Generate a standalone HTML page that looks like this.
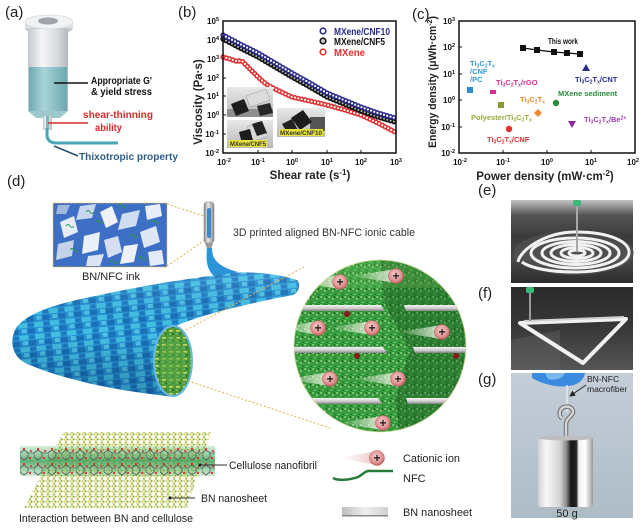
<!DOCTYPE html>
<html><head><meta charset="utf-8">
<style>
html,body{margin:0;padding:0;background:#fff;}
svg{display:block;font-family:"Liberation Sans",Arial,sans-serif;}
</style></head><body>
<svg width="640" height="530" viewBox="0 0 640 530" xmlns="http://www.w3.org/2000/svg">
<defs>
 <linearGradient id="syrBody" x1="0" x2="1" y1="0" y2="0">
  <stop offset="0" stop-color="#c4c8cc"/><stop offset=".35" stop-color="#f5f6f7"/><stop offset=".7" stop-color="#dadde0"/><stop offset="1" stop-color="#b4b8bc"/>
 </linearGradient>
 <linearGradient id="syrLiq" x1="0" x2="1" y1="0" y2="0">
  <stop offset="0" stop-color="#6eaab2"/><stop offset=".4" stop-color="#a8d4d8"/><stop offset="1" stop-color="#6ea8b0"/>
 </linearGradient>
 <pattern id="cablePat" patternUnits="userSpaceOnUse" width="16" height="12" patternTransform="rotate(-6)">
  <rect width="16" height="12" fill="#2690d4"/>
  <rect x="0" y="0" width="9" height="5" fill="#42c0e4"/>
  <rect x="9" y="6" width="7" height="5" fill="#1a70b8"/>
  <rect x="3" y="6" width="5" height="4" fill="#58cee8" opacity=".8"/>
  <rect x="10" y="1" width="5" height="3" fill="#1e78c0"/>
 </pattern>
 <linearGradient id="cableShade" x1="0" y1="0" x2="0" y2="1">
  <stop offset="0" stop-color="#fff" stop-opacity=".12"/><stop offset=".5" stop-color="#000" stop-opacity="0"/><stop offset="1" stop-color="#002050" stop-opacity=".3"/>
 </linearGradient>
 <pattern id="capPat" patternUnits="userSpaceOnUse" width="7" height="7">
  <rect width="7" height="7" fill="#4a9a3e"/>
  <rect x="1" y="1" width="4" height="1.6" fill="#c8d860"/>
  <circle cx="5" cy="5" r="1" fill="#2a6a2a"/>
  <circle cx="2" cy="5" r=".8" fill="#a0d870"/>
 </pattern>
 <pattern id="greenPat" patternUnits="userSpaceOnUse" width="8" height="8">
  <rect width="8" height="8" fill="#379a3c"/>
  <circle cx="1" cy="1" r=".9" fill="#a8e0a0"/>
  <circle cx="5" cy="3" r=".7" fill="#e0f4d8"/>
  <circle cx="3" cy="6" r=".9" fill="#70c870"/>
  <circle cx="7" cy="6.5" r=".6" fill="#1e6424"/>
  <rect x="6" y="0" width="1" height="2" fill="#1e6424"/>
 </pattern>
 <radialGradient id="ionGrad" cx=".45" cy=".4" r=".6">
  <stop offset="0" stop-color="#f8d0d0"/><stop offset=".7" stop-color="#e09090"/><stop offset="1" stop-color="#c06060"/>
 </radialGradient>
 <linearGradient id="tailGrad" x1="0" x2="1" y1="0" y2="0">
  <stop offset="0" stop-color="#f0f4e6" stop-opacity="0"/><stop offset="1" stop-color="#f0f4e6" stop-opacity=".9"/>
 </linearGradient>
 <linearGradient id="tailGrad2" x1="0" x2="1" y1="0" y2="0">
  <stop offset="0" stop-color="#f6dede" stop-opacity="0"/><stop offset="1" stop-color="#eab8b8" stop-opacity=".9"/>
 </linearGradient>
 <linearGradient id="barGrad" x1="0" x2="0" y1="0" y2="1">
  <stop offset="0" stop-color="#f4f4f4"/><stop offset=".6" stop-color="#c8c8c8"/><stop offset="1" stop-color="#808080"/>
 </linearGradient>
 <linearGradient id="barGrad2" x1="0" x2="1" y1="0" y2="0">
  <stop offset="0" stop-color="#bdbdbd"/><stop offset=".5" stop-color="#eeeeee"/><stop offset="1" stop-color="#d0d0d0"/>
 </linearGradient>
 <pattern id="hexPat" patternUnits="userSpaceOnUse" width="6" height="5.2">
  <rect width="6" height="5.2" fill="#fbfbf0"/>
  <path d="M0,0 L1.5,2.6 L4.5,2.6 L6,0 M1.5,2.6 L0,5.2 M4.5,2.6 L6,5.2" stroke="#c8c040" stroke-width=".7" fill="none"/>
  <circle cx="1.5" cy="2.6" r=".7" fill="#3a9a3a"/>
  <circle cx="6" cy="0" r=".7" fill="#3a9a3a"/>
  <circle cx="0" cy="0" r=".7" fill="#3a9a3a"/>
 </pattern>
 <pattern id="molPat" patternUnits="userSpaceOnUse" width="14" height="15" x="20" y="446">
  <path d="M0,7 L4,4 L8,7 L8,11 L4,14 L0,11 Z" stroke="#555" stroke-width=".8" fill="none"/>
  <circle cx="4" cy="3" r="1.1" fill="#e02a2a"/>
  <circle cx="10" cy="12" r="1.1" fill="#e02a2a"/>
  <circle cx="11" cy="5" r="1" fill="#e02a2a"/>
  <line x1="8" y1="7" x2="14" y2="7" stroke="#666" stroke-width=".8"/>
 </pattern>
 <linearGradient id="bandGrad" x1="0" x2="0" y1="0" y2="1">
  <stop offset="0" stop-color="#5ab86a" stop-opacity=".25"/><stop offset=".5" stop-color="#3a9a52" stop-opacity=".8"/><stop offset="1" stop-color="#5ab86a" stop-opacity=".3"/>
 </linearGradient>
 <linearGradient id="eGrad" x1="0" x2="0" y1="0" y2="1">
  <stop offset="0" stop-color="#c4c4c4"/><stop offset=".18" stop-color="#555"/><stop offset=".45" stop-color="#3a3a3a"/><stop offset=".7" stop-color="#4a4a4a"/><stop offset="1" stop-color="#2c2c2c"/>
 </linearGradient>
 <linearGradient id="fGrad" x1="0" x2="0" y1="0" y2="1">
  <stop offset="0" stop-color="#2a2a2a"/><stop offset=".5" stop-color="#383838"/><stop offset="1" stop-color="#555"/>
 </linearGradient>
 <linearGradient id="gGrad" x1="0" x2="0" y1="0" y2="1">
  <stop offset="0" stop-color="#c4ced8"/><stop offset="1" stop-color="#aebcc6"/>
 </linearGradient>
 <linearGradient id="wGrad" x1="0" x2="1" y1="0" y2="0">
  <stop offset="0" stop-color="#d0d0d0"/><stop offset=".15" stop-color="#f8f8f8"/><stop offset=".4" stop-color="#d4d4d4"/><stop offset=".52" stop-color="#888"/><stop offset=".6" stop-color="#151515"/><stop offset=".7" stop-color="#252525"/><stop offset=".74" stop-color="#f0f0f0"/><stop offset=".86" stop-color="#ffffff"/><stop offset="1" stop-color="#9a9a9a"/>
 </linearGradient>
 <linearGradient id="phGrad" x1="0" x2="0" y1="0" y2="1">
  <stop offset="0" stop-color="#e8e8e8"/><stop offset="1" stop-color="#b8b8b8"/>
 </linearGradient>
 <linearGradient id="needleGrad" x1="0" x2="1" y1="0" y2="0">
  <stop offset="0" stop-color="#888"/><stop offset=".4" stop-color="#e8e8e8"/><stop offset="1" stop-color="#8a8a8a"/>
 </linearGradient>
 <clipPath id="circClip"><circle cx="380" cy="346" r="86"/></clipPath>
 <marker id="arr" markerWidth="6" markerHeight="6" refX="5" refY="3" orient="auto" markerUnits="userSpaceOnUse">
  <path d="M0,0 L6,3 L0,6 Z" fill="#222"/>
 </marker>
</defs>

<!-- ================= (a) ================= -->
<text x="5" y="17" font-size="15" fill="#222">(a)</text>
<ellipse cx="49" cy="28" rx="24" ry="7" fill="#c8ccd0"/>
<rect x="25" y="22" width="48" height="6" fill="#dfe2e5"/>
<ellipse cx="49" cy="22" rx="24" ry="7" fill="#f0f2f4" stroke="#d0d4d8" stroke-width=".6"/>
<ellipse cx="48" cy="21" rx="10" ry="3.5" fill="#9ea4aa"/>
<rect x="28" y="29" width="40" height="82" fill="url(#syrBody)"/>
<rect x="29" y="67" width="38" height="44" fill="url(#syrLiq)"/>
<path d="M28,111 L68,111 L60,118 L36,118 Z" fill="#9fc8cc"/>
<rect x="43" y="116" width="9" height="14" fill="url(#syrBody)"/>
<rect x="46" y="116" width="3" height="14" fill="#7ab8c0"/>
<path d="M47,128 L47,136 Q48,143 57,143 L118,143" stroke="#4aa8b6" stroke-width="3" fill="none"/>
<line x1="54" y1="83" x2="88" y2="83" stroke="#111" stroke-width="1.5"/>
<line x1="48" y1="123" x2="88" y2="123" stroke="#d42b2b" stroke-width="1.5"/>
<line x1="54" y1="146" x2="78" y2="156" stroke="#2a4f72" stroke-width="1.5"/>
<g font-weight="bold" font-size="10">
<text x="91" y="84" fill="#111" textLength="61" lengthAdjust="spacingAndGlyphs">Appropriate G'</text>
<text x="91" y="95" fill="#111" textLength="61" lengthAdjust="spacingAndGlyphs">&amp; yield stress</text>
<text x="83" y="118" fill="#d42b2b" textLength="70" lengthAdjust="spacingAndGlyphs">shear-thinning</text>
<text x="95" y="131" fill="#d42b2b" textLength="27" lengthAdjust="spacingAndGlyphs">ability</text>
<text x="79" y="160" fill="#2d5d8a" textLength="99" lengthAdjust="spacingAndGlyphs">Thixotropic property</text>
</g>

<!-- ================= (b) ================= -->
<text x="178" y="17" font-size="15" fill="#222">(b)</text>
<g font-size="8" font-weight="bold" fill="#111" text-anchor="end">
<text x="219" y="24">10<tspan dy="-3" font-size="5.5">5</tspan></text>
<text x="219" y="43">10<tspan dy="-3" font-size="5.5">4</tspan></text>
<text x="219" y="62">10<tspan dy="-3" font-size="5.5">3</tspan></text>
<text x="219" y="81">10<tspan dy="-3" font-size="5.5">2</tspan></text>
<text x="219" y="99">10<tspan dy="-3" font-size="5.5">1</tspan></text>
<text x="219" y="118">10<tspan dy="-3" font-size="5.5">0</tspan></text>
<text x="219" y="137">10<tspan dy="-3" font-size="5.5">-1</tspan></text>
<text x="219" y="156">10<tspan dy="-3" font-size="5.5">-2</tspan></text>
</g>
<g font-size="8" font-weight="bold" fill="#111" text-anchor="middle">
<text x="224" y="165">10<tspan dy="-3" font-size="5.5">-2</tspan></text>
<text x="258" y="165">10<tspan dy="-3" font-size="5.5">-1</tspan></text>
<text x="292" y="165">10<tspan dy="-3" font-size="5.5">0</tspan></text>
<text x="327" y="165">10<tspan dy="-3" font-size="5.5">1</tspan></text>
<text x="361" y="165">10<tspan dy="-3" font-size="5.5">2</tspan></text>
<text x="396" y="165">10<tspan dy="-3" font-size="5.5">3</tspan></text>
</g>
<g stroke="#111" stroke-width="1">
<path d="M223,40 h3 M223,59 h3 M223,78 h3 M223,96 h3 M223,115 h3 M223,134 h3"/>
<path d="M258,153 v-3 M292,153 v-3 M327,153 v-3 M361,153 v-3"/>
</g>
<polyline points="223,57 230,59 236,61 242,61 248,67 258,77 266,84 275,89 292,97 310,101 327,105 345,110 361,115 378,123 395,132" fill="none" stroke="#e03030" stroke-width="5.4" stroke-linecap="round" stroke-dasharray="0 3.4"/>
<polyline points="223,57 230,59 236,61 242,61 248,67 258,77 266,84 275,89 292,97 310,101 327,105 345,110 361,115 378,123 395,132" fill="none" stroke="#fff" stroke-width="2.2" stroke-linecap="round" stroke-dasharray="0 3.4"/>
<polyline points="223,39 240,48 258,57 275,67 292,77 310,87 327,97 344,104 361,111 378,117 395,122" fill="none" stroke="#111" stroke-width="5.4" stroke-linecap="round" stroke-dasharray="0 3.4"/>
<polyline points="223,39 240,48 258,57 275,67 292,77 310,87 327,97 344,104 361,111 378,117 395,122" fill="none" stroke="#bbb" stroke-width="2" stroke-linecap="round" stroke-dasharray="0 3.4"/>
<polyline points="223,35 240,44 258,53 275,63 292,73 310,83 327,93 344,100 361,107 378,113 395,118" fill="none" stroke="#2a2a8a" stroke-width="5.4" stroke-linecap="round" stroke-dasharray="0 3.4"/>
<polyline points="223,35 240,44 258,53 275,63 292,73 310,83 327,93 344,100 361,107 378,113 395,118" fill="none" stroke="#fff" stroke-width="2.2" stroke-linecap="round" stroke-dasharray="0 3.4"/>
<rect x="227" y="87" width="46" height="30" fill="url(#phGrad)"/>
<rect x="227" y="109" width="46" height="8" fill="#8e8e8e"/>
<polygon points="246,96 266,89 270,100 250,107" fill="#dcdcdc" stroke="#999" stroke-width=".5"/>
<polygon points="231,104 244,99 249,111 236,116" fill="#1e1e1e"/>
<polygon points="257,106 270,103 273,113 260,116" fill="#262626"/>
<rect x="227" y="120" width="46" height="28" fill="url(#phGrad)"/>
<polygon points="247,127 258,122 268,136 254,141" fill="#d8d8d8" stroke="#999" stroke-width=".5"/>
<polygon points="239,132 250,129 253,141 242,144" fill="#1c1c1c"/>
<polygon points="252,124 262,121 267,133 257,136" fill="#222"/>
<rect x="229" y="140" width="38" height="7" fill="#e8e23c"/>
<text x="230" y="146" font-size="6.5" font-weight="bold" fill="#333" textLength="36" lengthAdjust="spacingAndGlyphs">MXene/CNF5</text>
<rect x="277" y="108" width="48" height="29" fill="url(#phGrad)"/>
<rect x="310" y="117" width="15" height="14" fill="#555"/>
<polygon points="291,118 303,110 312,122 300,130" fill="#1c1c1c"/>
<polygon points="282,124 292,119 298,130 288,134" fill="#222"/>
<rect x="279" y="129" width="44" height="7" fill="#e8e23c"/>
<text x="280" y="135" font-size="6.5" font-weight="bold" fill="#333" textLength="42" lengthAdjust="spacingAndGlyphs">MXene/CNF10</text>
<rect x="223" y="21" width="173" height="132" fill="none" stroke="#111" stroke-width="1.5"/>
<circle cx="323" cy="31" r="2.8" fill="#fff" stroke="#2a2a8a" stroke-width="1.6"/>
<circle cx="323" cy="41" r="2.8" fill="#ccc" stroke="#111" stroke-width="1.6"/>
<circle cx="323" cy="52" r="2.8" fill="#fff" stroke="#e03030" stroke-width="1.6"/>
<g font-size="10" font-weight="bold">
<text x="334" y="35" fill="#2a2a8a" textLength="56" lengthAdjust="spacingAndGlyphs">MXene/CNF10</text>
<text x="334" y="45" fill="#111" textLength="51" lengthAdjust="spacingAndGlyphs">MXene/CNF5</text>
<text x="334" y="56" fill="#e03030" textLength="31" lengthAdjust="spacingAndGlyphs">MXene</text>
</g>
<text x="310" y="179" font-size="11.5" font-weight="bold" fill="#222" text-anchor="middle">Shear rate (s<tspan dy="-4" font-size="8">-1</tspan><tspan dy="4">)</tspan></text>
<text transform="translate(202,102) rotate(-90)" font-size="11.5" font-weight="bold" fill="#222" text-anchor="middle">Viscosity (Pa·s)</text>

<!-- ================= (c) ================= -->
<text x="412" y="19" font-size="15" fill="#222">(c)</text>
<rect x="459" y="21" width="176" height="132" fill="none" stroke="#111" stroke-width="1.5"/>
<g font-size="8" font-weight="bold" fill="#111" text-anchor="end">
<text x="455" y="24">10<tspan dy="-3" font-size="5.5">3</tspan></text>
<text x="455" y="50">10<tspan dy="-3" font-size="5.5">2</tspan></text>
<text x="455" y="77">10<tspan dy="-3" font-size="5.5">1</tspan></text>
<text x="455" y="103">10<tspan dy="-3" font-size="5.5">0</tspan></text>
<text x="455" y="130">10<tspan dy="-3" font-size="5.5">-1</tspan></text>
<text x="455" y="156">10<tspan dy="-3" font-size="5.5">-2</tspan></text>
</g>
<g font-size="8" font-weight="bold" fill="#111" text-anchor="middle">
<text x="460" y="165">10<tspan dy="-3" font-size="5.5">-2</tspan></text>
<text x="503" y="165">10<tspan dy="-3" font-size="5.5">-1</tspan></text>
<text x="547" y="165">10<tspan dy="-3" font-size="5.5">0</tspan></text>
<text x="591" y="165">10<tspan dy="-3" font-size="5.5">1</tspan></text>
<text x="633" y="165">10<tspan dy="-3" font-size="5.5">2</tspan></text>
</g>
<g stroke="#111" stroke-width="1">
<path d="M459,47 h3 M459,74 h3 M459,100 h3 M459,127 h3"/>
<path d="M503,153 v-3 M547,153 v-3 M591,153 v-3"/>
</g>
<polyline points="523,48 537,50 554,52 567,53 580,54" fill="none" stroke="#111" stroke-width="1.2"/>
<g fill="#111">
<rect x="520" y="45" width="6" height="6"/><rect x="534" y="47" width="6" height="6"/><rect x="551" y="49" width="6" height="6"/><rect x="564" y="50" width="6" height="6"/><rect x="577" y="51" width="6" height="6"/>
</g>
<text x="548" y="44" font-size="8" font-weight="bold" fill="#111" textLength="30" lengthAdjust="spacingAndGlyphs">This work</text>
<rect x="467" y="87" width="6" height="6" fill="#2a8fd0"/>
<rect x="490" y="90" width="6" height="4" fill="#d43090"/>
<rect x="498" y="102" width="6" height="6" fill="#8a9a30"/>
<polygon points="538,109 542,113 538,117 534,113" fill="#f08a30"/>
<circle cx="509" cy="129" r="3.2" fill="#e83030"/>
<circle cx="556" cy="103" r="3.2" fill="#2a8a3a"/>
<polygon points="586,64 590,71 582,71" fill="#2a2a8a"/>
<polygon points="568,121 576,121 572,128" fill="#8a2a9a"/>
<g font-size="7.5" font-weight="bold">
<text x="470" y="66" fill="#3a98d8">Ti<tspan font-size="5" dy="1.5">3</tspan><tspan dy="-1.5">C</tspan><tspan font-size="5" dy="1.5">2</tspan><tspan dy="-1.5">T</tspan><tspan font-size="5" dy="1.5">x</tspan></text>
<text x="470" y="74" fill="#3a98d8">/CNF</text>
<text x="470" y="82" fill="#3a98d8">/PC</text>
<text x="496" y="85" fill="#d43090">Ti<tspan font-size="5" dy="1.5">3</tspan><tspan dy="-1.5">C</tspan><tspan font-size="5" dy="1.5">2</tspan><tspan dy="-1.5">T</tspan><tspan font-size="5" dy="1.5">x</tspan><tspan dy="-1.5">/rGO</tspan></text>
<text x="520" y="102" fill="#f08a30">Ti<tspan font-size="5" dy="1.5">3</tspan><tspan dy="-1.5">C</tspan><tspan font-size="5" dy="1.5">2</tspan><tspan dy="-1.5">T</tspan><tspan font-size="5" dy="1.5">x</tspan></text>
<text x="558" y="96" fill="#2a8a3a">MXene sediment</text>
<text x="575" y="82" fill="#2a2a90">Ti<tspan font-size="5" dy="1.5">3</tspan><tspan dy="-1.5">C</tspan><tspan font-size="5" dy="1.5">2</tspan><tspan dy="-1.5">T</tspan><tspan font-size="5" dy="1.5">x</tspan><tspan dy="-1.5">/CNT</tspan></text>
<text x="471" y="120" fill="#9aaa40">Polyester/Ti<tspan font-size="5" dy="1.5">3</tspan><tspan dy="-1.5">C</tspan><tspan font-size="5" dy="1.5">2</tspan><tspan dy="-1.5">T</tspan><tspan font-size="5" dy="1.5">x</tspan></text>
<text x="584" y="122" fill="#9a40b0">Ti<tspan font-size="5" dy="1.5">3</tspan><tspan dy="-1.5">C</tspan><tspan font-size="5" dy="1.5">2</tspan><tspan dy="-1.5">T</tspan><tspan font-size="5" dy="1.5">x</tspan><tspan dy="-1.5">/Be</tspan><tspan font-size="5" dy="-2.5">2+</tspan></text>
<text x="487" y="142" fill="#e83030">Ti<tspan font-size="5" dy="1.5">3</tspan><tspan dy="-1.5">C</tspan><tspan font-size="5" dy="1.5">2</tspan><tspan dy="-1.5">T</tspan><tspan font-size="5" dy="1.5">x</tspan><tspan dy="-1.5">/CNF</tspan></text>
</g>
<text x="545" y="180" font-size="11.5" font-weight="bold" fill="#222" text-anchor="middle">Power density (mW·cm<tspan dy="-4" font-size="8">-2</tspan><tspan dy="4">)</tspan></text>
<text x="0" y="0" transform="translate(436,148) rotate(-90)" font-size="11" font-weight="bold" fill="#222" textLength="132" lengthAdjust="spacingAndGlyphs">Energy density (μWh·cm<tspan dy="-4" font-size="7.5">-2</tspan><tspan dy="4">)</tspan></text>

<!-- ================= (d) ================= -->
<text x="7" y="186" font-size="15" fill="#222">(d)</text>
<rect x="53" y="203" width="114" height="64" fill="#3d6fc4"/>
<g>
<polygon points="60,222 74,216 78,232 64,238" fill="#e6ecf6"/>
<polygon points="80,206 96,204 92,218 76,220" fill="#c8d6ee"/>
<polygon points="100,212 112,206 118,222 106,228" fill="#eef2f8"/>
<polygon points="122,214 140,210 136,226 118,230" fill="#d0dcf0"/>
<polygon points="145,206 160,204 162,216 147,220" fill="#e8eef8"/>
<polygon points="140,232 156,226 160,242 144,248" fill="#dfe7f4"/>
<polygon points="58,244 74,240 72,256 56,260" fill="#c4d2ea"/>
<polygon points="84,236 100,232 98,250 82,254" fill="#eaf0f8"/>
<polygon points="104,240 118,236 122,252 108,258" fill="#d4def0"/>
<polygon points="124,246 138,244 134,262 120,264" fill="#eef2f8"/>
<polygon points="88,256 104,254 100,266 86,266" fill="#dae4f4"/>
<polygon points="148,252 162,250 164,264 150,266" fill="#e4ebf6"/>
<polygon points="58,205 70,205 66,214 56,214" fill="#9fb8e0"/>
</g>
<g stroke="#2a9a4a" stroke-width=".9" fill="none">
<path d="M66,226 q2,-3 4,0 t4,0"/><path d="M96,222 q2,-3 4,0 t4,0"/><path d="M118,206 q2,-3 4,0 t4,0"/>
<path d="M130,236 q2,-3 4,0 t4,0"/><path d="M70,250 q2,-3 4,0 t4,0"/><path d="M110,262 q2,-3 4,0 t4,0"/>
<path d="M152,222 q2,-3 4,0 t4,0"/><path d="M138,258 q2,-3 4,0 t4,0"/><path d="M86,212 q2,-3 4,0 t4,0"/>
</g>
<rect x="53" y="203" width="114" height="64" fill="none" stroke="#e8c060" stroke-width="1" stroke-dasharray="2 1.5"/>
<text x="111" y="280" font-size="11" fill="#222" text-anchor="middle">BN/NFC ink</text>
<line x1="167" y1="204" x2="204" y2="216" stroke="#e0b050" stroke-width="1" stroke-dasharray="2 2"/>
<line x1="167" y1="266" x2="205" y2="240" stroke="#e0b050" stroke-width="1" stroke-dasharray="2 2"/>
<rect x="204" y="202" width="10" height="41" rx="3" fill="url(#needleGrad)" stroke="#777" stroke-width=".5"/>
<rect x="207" y="208" width="4" height="30" rx="2" fill="#3a88d0"/>
<polygon points="205,243 213,243 211,249 207,249" fill="#999"/>
<path d="M207,248 L212,248 C212,258 216,266 238,272 L216,278 C206,270 206,260 207,248 Z" fill="#2a94d8"/>
<text x="233" y="236" font-size="11" fill="#333" textLength="182" lengthAdjust="spacingAndGlyphs">3D printed aligned BN-NFC ionic cable</text>
<path d="M297,280 C280,274 250,271 233,273 C200,277 150,284 100,295 C60,303 25,312 15,330 C8,345 15,360 30,365 C60,378 110,390 167,396 A20,36 0 0 0 176,326 C200,315 250,303 293,295 C299,293 301,283 297,280 Z" fill="url(#cablePat)"/>
<path d="M297,280 C280,274 250,271 233,273 C200,277 150,284 100,295 C60,303 25,312 15,330 C8,345 15,360 30,365 C60,378 110,390 167,396 A20,36 0 0 0 176,326 C200,315 250,303 293,295 C299,293 301,283 297,280 Z" fill="url(#cableShade)"/>
<ellipse cx="173" cy="361" rx="19" ry="35" fill="url(#capPat)" stroke="#6ab8e4" stroke-width="2"/>
<ellipse cx="173" cy="361" rx="12" ry="25" fill="#5aa848" opacity=".5"/>
<line x1="186" y1="330" x2="306" y2="266" stroke="#e0b050" stroke-width="1" stroke-dasharray="2 2"/>
<line x1="188" y1="381" x2="330" y2="428" stroke="#e0b050" stroke-width="1" stroke-dasharray="2 2"/>
<g clip-path="url(#circClip)">
<rect x="290" y="258" width="180" height="176" fill="url(#greenPat)"/>
<path d="M380,258 L470,258 L470,434 L400,434 L395,400 L410,350 L385,305 Z" fill="#0f3a14" opacity=".3"/>
<rect x="290" y="258" width="180" height="30" fill="#80d070" opacity=".2"/>
<g fill="url(#tailGrad)">
<polygon points="295,282 340,275 340,289"/><polygon points="351,276 396,269 396,283"/>
<polygon points="280,328 318,321 318,335"/><polygon points="327,328 372,321 372,335"/>
<polygon points="397,332 442,325 442,339"/><polygon points="285,379 330,372 330,386"/>
<polygon points="353,379 398,372 398,386"/><polygon points="338,423 383,416 383,430"/>
</g>
<circle cx="347" cy="314" r="3" fill="#8a1a1a"/><circle cx="357" cy="356" r="3" fill="#8a1a1a"/><circle cx="456" cy="356" r="3" fill="#8a1a1a"/>
<g fill="url(#barGrad)">
<polygon points="285,305 381,305 385,311 285,311"/><polygon points="404,305 475,305 475,311 406,311"/>
<polygon points="285,347 383,347 387,353 285,353"/><polygon points="413,347 475,347 475,353 415,353"/>
<polygon points="285,398 378,398 382,404 285,404"/><polygon points="406,398 475,398 475,404 408,404"/>
</g>
<g fill="url(#ionGrad)" stroke="#b85858" stroke-width=".5">
<circle cx="340" cy="282" r="7.5"/><circle cx="396" cy="276" r="7.5"/><circle cx="318" cy="328" r="7.5"/><circle cx="372" cy="328" r="7.5"/>
<circle cx="442" cy="332" r="7.5"/><circle cx="330" cy="379" r="7.5"/><circle cx="398" cy="379" r="7.5"/><circle cx="383" cy="423" r="7.5"/>
</g>
<g font-size="12" font-weight="bold" fill="#222" text-anchor="middle">
<text x="340" y="286">+</text><text x="396" y="280">+</text><text x="318" y="332">+</text><text x="372" y="332">+</text>
<text x="442" y="336">+</text><text x="330" y="383">+</text><text x="398" y="383">+</text><text x="383" y="427">+</text>
</g>
</g>
<circle cx="380" cy="346" r="86" fill="none" stroke="#d8e0a0" stroke-width="1" opacity=".7"/>
<polygon points="338,458 377,451 377,465" fill="url(#tailGrad2)"/>
<circle cx="377" cy="458" r="7.5" fill="url(#ionGrad)" stroke="#b85858" stroke-width=".5"/>
<text x="377" y="462" font-size="12" font-weight="bold" fill="#222" text-anchor="middle">+</text>
<path d="M333,478 C338,481 350,480 358,477 C364,474 365,470 372,471 L393,471" stroke="#2a7a3a" stroke-width="2.5" fill="none"/>
<rect x="342" y="507" width="46" height="9" fill="url(#barGrad2)"/>
<rect x="342" y="515" width="46" height="1.5" fill="#888"/>
<g font-size="11" fill="#222">
<text x="403" y="462" textLength="57" lengthAdjust="spacingAndGlyphs">Cationic ion</text>
<text x="403" y="482">NFC</text>
<text x="403" y="516" textLength="69" lengthAdjust="spacingAndGlyphs">BN nanosheet</text>
</g>
<polygon points="63,432 211,432 187,508 24,508" fill="url(#hexPat)"/>
<rect x="20" y="446" width="195" height="30" fill="url(#bandGrad)"/>
<rect x="20" y="446" width="195" height="30" fill="url(#molPat)"/>
<line x1="200" y1="465" x2="227" y2="465" stroke="#333" stroke-width="1"/>
<circle cx="200" cy="465" r="1.5" fill="#222"/>
<line x1="170" y1="498" x2="195" y2="498" stroke="#333" stroke-width="1"/>
<circle cx="170" cy="498" r="1.5" fill="#222"/>
<g font-size="11" fill="#222">
<text x="229" y="469" textLength="88" lengthAdjust="spacingAndGlyphs">Cellulose nanofibril</text>
<text x="201" y="502" textLength="66" lengthAdjust="spacingAndGlyphs">BN nanosheet</text>
<text x="19" y="522" textLength="174" lengthAdjust="spacingAndGlyphs">Interaction between BN and cellulose</text>
</g>

<!-- ================= (e) ================= -->
<text x="478" y="195" font-size="15" fill="#222">(e)</text>
<rect x="511" y="200" width="122" height="83" fill="url(#eGrad)"/>
<ellipse cx="574" cy="253" rx="60" ry="22" fill="#5a5a5a" opacity=".5"/>
<g fill="none" stroke="#f2f2f2" stroke-width="3">
<path d="M518,262 C520,250 545,232 576,232 C610,232 630,242 629,253 C628,264 605,272 574,272 C550,272 530,268 522,262"/>
<ellipse cx="575" cy="253" rx="44" ry="15"/>
<ellipse cx="576" cy="253" rx="34" ry="11.5"/>
<ellipse cx="576" cy="253" rx="25" ry="8.5"/>
<ellipse cx="577" cy="253" rx="16" ry="5.5"/>
<ellipse cx="577" cy="253" rx="8" ry="3"/>
</g>
<line x1="577" y1="205" x2="577" y2="252" stroke="#a8a8a8" stroke-width="2"/>
<rect x="573" y="200" width="8" height="6" rx="2" fill="#3cb878"/>
<!-- ================= (f) ================= -->
<text x="478" y="298" font-size="15" fill="#222">(f)</text>
<rect x="511" y="287" width="122" height="83" fill="url(#fGrad)"/>
<polygon points="511,340 560,330 560,370 511,370" fill="#6a6a6a" opacity=".35"/>
<polygon points="520,323 626,319 583,363" fill="none" stroke="#f0f0f0" stroke-width="4" stroke-linejoin="round"/>
<line x1="524" y1="321" x2="624" y2="317" stroke="#cfcfcf" stroke-width="2"/>
<line x1="530" y1="290" x2="530" y2="321" stroke="#999" stroke-width="2"/>
<rect x="526" y="287" width="8" height="6" rx="2" fill="#3cb878"/>
<!-- ================= (g) ================= -->
<text x="478" y="384" font-size="15" fill="#222">(g)</text>
<rect x="511" y="373" width="122" height="145" fill="url(#gGrad)"/>
<path d="M532,373 L585,373 C584,380 577,386 567,386 C556,388 540,383 532,378 Z" fill="#3a8be0"/>
<path d="M545,373 L565,373 C563,378 556,381 548,379 Z" fill="#7ab8f0"/>
<line x1="567" y1="385" x2="567" y2="412" stroke="#eef2f4" stroke-width="1.2"/>
<path d="M566,437 L566,424 C566,418 573,416 573,412 C573,405 562,405 560,411 C559,414 560,417 562,418" fill="none" stroke="#6a6a6a" stroke-width="4.5"/>
<path d="M566,437 L566,424 C566,418 573,416 573,412 C573,405 562,405 560,411 C559,414 560,417 562,418" fill="none" stroke="#d4d4d4" stroke-width="2.5"/>
<rect x="538" y="437" width="55" height="70" rx="3" fill="url(#wGrad)"/>
<ellipse cx="565.5" cy="438" rx="27.5" ry="2.5" fill="#bdbdbd"/>
<text x="567" y="517" font-size="11" fill="#222" text-anchor="middle">50 g</text>
<text x="587" y="382" font-size="8.5" fill="#222">BN-NFC</text>
<text x="587" y="392" font-size="8.5" fill="#222">macrofiber</text>
<line x1="586" y1="385" x2="570" y2="396" stroke="#222" stroke-width="1" marker-end="url(#arr)"/>
</svg>
</body></html>
